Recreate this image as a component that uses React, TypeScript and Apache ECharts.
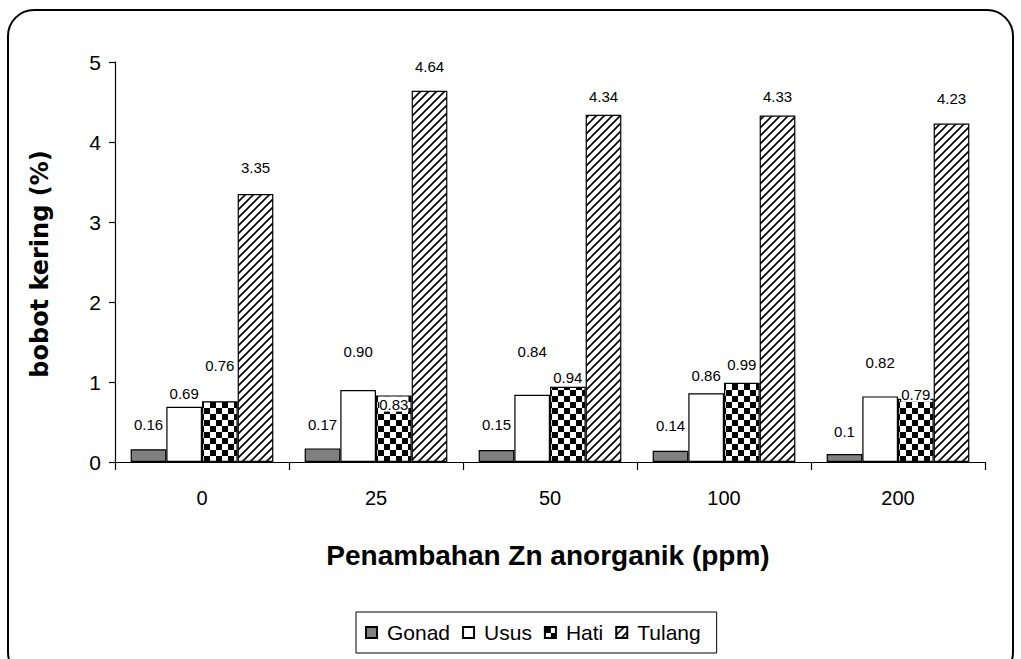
import React, { useEffect, useRef } from "react";
import * as echarts from "echarts";

const categories = ["0", "25", "50", "100", "200"];
const seriesNames = ["Gonad", "Usus", "Hati", "Tulang"];
const gonad = ["0.16", "0.17", "0.15", "0.14", "0.1"];
const usus = ["0.69", "0.90", "0.84", "0.86", "0.82"];
const hati = ["0.76", "0.83", "0.94", "0.99", "0.79"];
const tulang = ["3.35", "4.64", "4.34", "4.33", "4.23"];
const yTicks = { min: 0, max: 5, interval: 1 };

// label lift above bar top (px, label centre)
const gonadLift = [24, 23, 25, 25, 22];
const ususLift = [13, 38, 43, 17, 33];
const hatiLift = [35, -9, 9, 18, 4];
const tulangLift = [26, 24, 18, 19, 25];

function makeChecker(): HTMLCanvasElement {
  const c = document.createElement("canvas");
  c.width = 12;
  c.height = 12;
  const g = c.getContext("2d")!;
  g.fillStyle = "#fff";
  g.fillRect(0, 0, 12, 12);
  g.fillStyle = "#000";
  g.fillRect(0, 0, 6, 6);
  g.fillRect(6, 6, 6, 6);
  return c;
}

function makeStripes(): HTMLCanvasElement {
  const c = document.createElement("canvas");
  c.width = 8;
  c.height = 8;
  const g = c.getContext("2d")!;
  g.fillStyle = "#fff";
  g.fillRect(0, 0, 8, 8);
  g.strokeStyle = "#000";
  g.lineWidth = 1.6;
  g.beginPath();
  g.moveTo(-1, 9);
  g.lineTo(9, -1);
  g.moveTo(-1, 1);
  g.lineTo(1, -1);
  g.moveTo(7, 9);
  g.lineTo(9, 7);
  g.stroke();
  return c;
}

export default function App() {
  const ref = useRef<HTMLDivElement>(null);
  useEffect(() => {
    if (!ref.current) return;
    const chart = echarts.init(ref.current, undefined, { renderer: "svg" });
    const fills: any[] = [
      "#808080",
      "#ffffff",
      { image: makeChecker(), repeat: "repeat" },
      { image: makeStripes(), repeat: "repeat" },
    ];
    const datas = [gonad, usus, hati, tulang];
    const lifts = [gonadLift, ususLift, hatiLift, tulangLift];
    const series = seriesNames.map((name, si) => ({
      name,
      type: "bar",
      barGap: "0%",
      barCategoryGap: "18%",
      itemStyle: { color: fills[si], borderColor: "#000", borderWidth: 1.2 },
      data: datas[si].map((v, i) => ({
        value: parseFloat(v),
        label: { offset: [0, 7 - lifts[si][i]] },
      })),
      label: {
        show: true,
        position: "top",
        distance: 0,
        color: "#000",
        fontFamily: "Liberation Sans",
        fontSize: 15,
        lineHeight: 15,
        backgroundColor: si === 2 ? "#fff" : "transparent",
        formatter: (p: any) => datas[si][p.dataIndex],
      },
    }));

    chart.setOption({
      animation: false,
      grid: { left: 115, top: 62, width: 870, height: 400 },
      legend: {
        data: seriesNames,
        left: 356,
        top: 612,
        itemWidth: 11,
        itemHeight: 11,
        itemGap: 12,
        padding: [10, 16, 10, 9],
        borderColor: "#000",
        borderWidth: 1,
        icon: "rect",
        textStyle: {
          fontFamily: "Liberation Sans",
          fontSize: 21,
          color: "#000",
          padding: [0, 0, 0, 5],
        },
      },
      xAxis: {
        type: "category",
        data: categories,
        boundaryGap: true,
        axisLine: { lineStyle: { color: "#000", width: 1.2 } },
        axisTick: { show: true, length: 8, interval: 0, lineStyle: { color: "#000", width: 1.2 } },
        axisLabel: {
          color: "#000",
          fontFamily: "Liberation Sans",
          fontSize: 20,
          margin: 26,
        },
      },
      yAxis: {
        type: "value",
        min: yTicks.min,
        max: yTicks.max,
        interval: yTicks.interval,
        splitLine: { show: false },
        axisLine: { show: true, lineStyle: { color: "#000", width: 1.2 } },
        axisTick: { show: true, length: 6, lineStyle: { color: "#000", width: 1.2 } },
        axisLabel: {
          color: "#000",
          fontFamily: "Liberation Sans",
          fontSize: 21,
          margin: 14,
        },
      },
      graphic: [
        {
          type: "rect",
          shape: { x: 8, y: 10, width: 1005, height: 668, r: 26 },
          style: { fill: "none", stroke: "#000", lineWidth: 2 },
          silent: true,
          z: -1,
        },
        {
          type: "text",
          x: 548,
          y: 555,
          style: {
            text: "Penambahan Zn anorganik (ppm)",
            font: "bold 28px 'Liberation Sans'",
            fill: "#000",
            align: "center",
            verticalAlign: "middle",
          },
        },
        {
          type: "text",
          x: 40,
          y: 264,
          rotation: Math.PI / 2,
          style: {
            text: "bobot kering (%)",
            font: "bold 24px 'DejaVu Sans'",
            fill: "#000",
            align: "center",
            verticalAlign: "middle",
          },
        },
      ],
      series,
    });
    return () => chart.dispose();
  }, []);
  return (
    <div
      ref={ref}
      style={{ position: "absolute", left: 0, top: 0, width: 1021, height: 659 }}
    />
  );
}
